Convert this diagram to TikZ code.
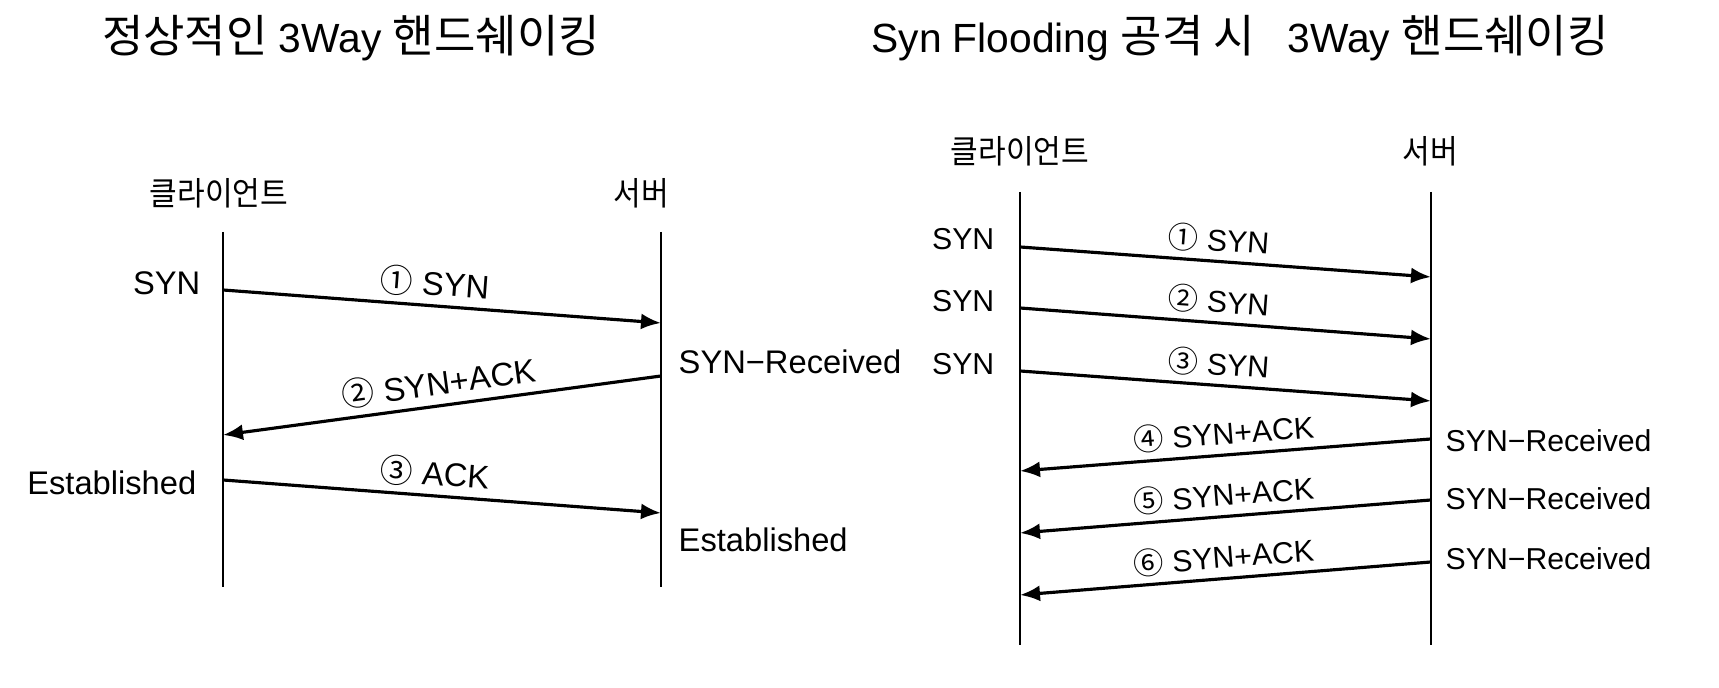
\documentclass[tikz,border=0pt]{standalone}
\usepackage{fontspec}
\setmainfont{Liberation Sans}
\newfontfamily\krfont{Noto Sans CJK KR}
\newfontfamily\krnarrow[FakeStretch=0.92]{Noto Sans CJK KR}
\newcommand{\krtitle}[1]{{\krfont\fontsize{12.8}{14}\selectfont #1}}
\usepackage{xcolor}
\usepackage{tikz}
\usetikzlibrary{arrows.meta, positioning, calc}

\begin{document}
\begin{tikzpicture}[
        title/.style={font=\fontsize{11.6}{14}\selectfont, inner sep=0pt},
        entity/.style={font=\krnarrow\fontsize{9.3}{11}\selectfont, inner sep=0pt},
        state/.style={font=\fontsize{9.3}{11}\selectfont, inner sep=0pt},
        rstate/.style={font=\fontsize{8.6}{10}\selectfont, inner sep=0pt},
        lifeline/.style={black, line width=0.7pt},
        msg/.style={black, line width=0.9pt, -{Latex[length=2mm, width=1.6mm]}},
        msglabel/.style={font=\fontsize{9.3}{11}\selectfont, sloped, above,
                         midway, inner sep=1.8pt},
        rmsglabel/.style={msglabel, font=\fontsize{8.6}{10}\selectfont}
      ]
        \useasboundingbox (0,0) rectangle (17.19,6.88);
        % Titles
        \node[title] (t1) at (3.51, 6.50)
          {\krtitle{정상적인} 3Way \krtitle{핸드쉐이킹}};
        \node[title] (t2) at (12.40, 6.50)
          {Syn Flooding \krtitle{공격 시}\hspace{0.8em}3Way \krtitle{핸드쉐이킹}};
        % Normal handshake: lifelines
        \node[entity] (lc) at (2.19, 4.95) {클라이언트};
        \node[entity] (ls) at (6.41, 4.95) {서버};
        \coordinate (lct) at (2.23, 4.56);
        \coordinate (lcb) at (2.23, 1.01);
        \coordinate (lst) at (6.61, 4.56);
        \coordinate (lsb) at (6.61, 1.01);
        \draw[lifeline] (lct) -- (lcb);
        \draw[lifeline] (lst) -- (lsb);
        % Normal handshake: messages
        \coordinate (la1) at (2.23, 3.98);
        \coordinate (lb1) at (6.61, 3.65);
        \coordinate (la2) at (6.61, 3.12);
        \coordinate (lb2) at (2.23, 2.53);
        \coordinate (la3) at (2.23, 2.08);
        \coordinate (lb3) at (6.61, 1.75);
        \draw[msg] (la1) -- node[msglabel, pos=0.48] {{\krfont ①} SYN} (lb1);
        \draw[msg] (la2) -- node[msglabel] {{\krfont ②} SYN+ACK} (lb2);
        \draw[msg] (la3) -- node[msglabel, pos=0.48] {{\krfont ③} ACK} (lb3);
        % Normal handshake: states
        \node[state, anchor=east] (lsyn) at (2.01, 4.05) {SYN};
        \node[state, anchor=west] (lrcv) at (6.78, 3.26) {SYN−Received};
        \node[state, anchor=east] (lest1) at (1.97, 2.05) {Established};
        \node[state, anchor=west] (lest2) at (6.78, 1.48) {Established};
        % Syn flooding: lifelines
        \node[entity] (rc) at (10.20, 5.37) {클라이언트};
        \node[entity] (rs) at (14.30, 5.37) {서버};
        \coordinate (rct) at (10.20, 4.96);
        \coordinate (rcb) at (10.20, 0.43);
        \coordinate (rst) at (14.31, 4.96);
        \coordinate (rsb) at (14.31, 0.43);
        \draw[lifeline] (rct) -- (rcb);
        \draw[lifeline] (rst) -- (rsb);
        % Syn flooding: SYN messages
        \coordinate (ra1) at (10.20, 4.41);
        \coordinate (rb1) at (14.31, 4.11);
        \coordinate (ra2) at (10.20, 3.80);
        \coordinate (rb2) at (14.31, 3.49);
        \coordinate (ra3) at (10.20, 3.17);
        \coordinate (rb3) at (14.31, 2.87);
        \draw[msg] (ra1) -- node[rmsglabel, pos=0.48] {{\krfont ①} SYN} (rb1);
        \draw[msg] (ra2) -- node[rmsglabel, pos=0.48] {{\krfont ②} SYN} (rb2);
        \draw[msg] (ra3) -- node[rmsglabel, pos=0.48] {{\krfont ③} SYN} (rb3);
        % Syn flooding: SYN+ACK messages
        \coordinate (ra4) at (14.31, 2.49);
        \coordinate (rb4) at (10.20, 2.17);
        \coordinate (ra5) at (14.31, 1.88);
        \coordinate (rb5) at (10.20, 1.55);
        \coordinate (ra6) at (14.31, 1.26);
        \coordinate (rb6) at (10.20, 0.93);
        \draw[msg] (ra4) -- node[rmsglabel] {{\krfont ④} SYN+ACK} (rb4);
        \draw[msg] (ra5) -- node[rmsglabel] {{\krfont ⑤} SYN+ACK} (rb5);
        \draw[msg] (ra6) -- node[rmsglabel] {{\krfont ⑥} SYN+ACK} (rb6);
        % Syn flooding: states
        \node[rstate, anchor=east] (rsyn1) at (9.95, 4.49) {SYN};
        \node[rstate, anchor=east] (rsyn2) at (9.95, 3.87) {SYN};
        \node[rstate, anchor=east] (rsyn3) at (9.95, 3.24) {SYN};
        \node[rstate, anchor=west] (rrcv1) at (14.45, 2.47) {SYN−Received};
        \node[rstate, anchor=west] (rrcv2) at (14.45, 1.89) {SYN−Received};
        \node[rstate, anchor=west] (rrcv3) at (14.45, 1.29) {SYN−Received};
      \end{tikzpicture}
\end{document}
